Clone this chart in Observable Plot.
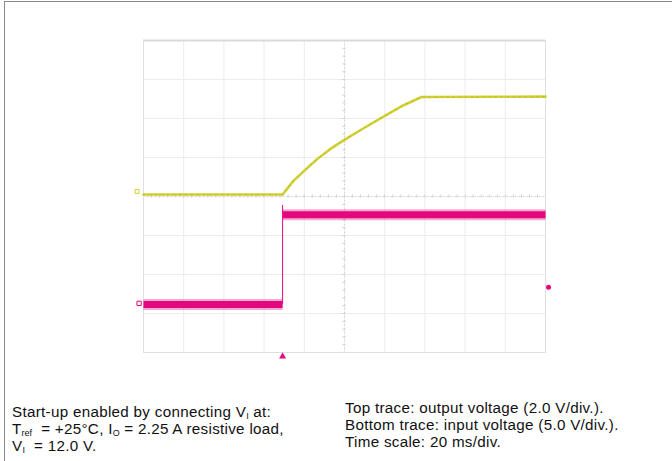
<!DOCTYPE html>
<html>
<head>
<meta charset="utf-8">
<script src="https://cdn.jsdelivr.net/npm/d3@7"></script>
<script src="https://cdn.jsdelivr.net/npm/@observablehq/plot@0.6"></script>
<style>
  body { margin: 0; background: #fff; }
  #wrap { position: relative; width: 672px; height: 461px; overflow: hidden;
          font-family: "Liberation Sans", Arial, Helvetica, sans-serif; color: #111; }
  #border { position: absolute; left: 4px; top: 1px; width: 700px; height: 500px;
            border-top: 1px solid #8a8a8a; border-left: 1px solid #8a8a8a; }
  #chart { position: absolute; left: 0; top: 0; }
  .cap { position: absolute; font-size: 15.2px; letter-spacing: 0.3px; line-height: 17.2px; white-space: nowrap; }
  .sb { font-size: 9px; letter-spacing: 0; line-height: 0; position: relative; top: 1.5px; }
</style>
</head>
<body>
<div id="wrap">
  <div id="border"></div>
  <div id="chart"></div>
  <div class="cap" style="left:12px; top:403px;">
    Start-up enabled by connecting V<span class="sb">I</span> at:<br>
    T<span class="sb">ref</span>&nbsp; = +25°C, I<span class="sb">O</span> = 2.25 A resistive load,<br>
    V<span class="sb">I</span>&nbsp; = 12.0 V.
  </div>
  <div class="cap" style="left:345px; top:399px;">
    Top trace: output voltage (2.0 V/div.).<br>
    Bottom trace: input voltage (5.0 V/div.).<br>
    Time scale: 20 ms/div.
  </div>
</div>
<script>
// Screen grid: time (ms) across 10 divisions, vertical position in divisions
const gridTimes = [0, 20, 40, 60, 80, 100, 120, 140, 160, 180, 200];
const gridDivs = [-4, -3, -2, -1, 0, 1, 2, 3, 4];
const minorTimes = d3.range(0, 200.1, 4);
const minorDivs = d3.range(-4, 4.01, 0.2);

// Top trace: output voltage (screen divisions)
const outTime = [0, 69.2, 74.6, 80.6, 86.6, 93.0, 99.5, 109.5, 119.4, 129.4, 138.3, 200];
const outDiv  = [0.05, 0.05, 0.40, 0.69, 0.97, 1.22, 1.44, 1.75, 2.05, 2.34, 2.55, 2.56];

// Bottom trace: input voltage (screen divisions)
const inTime = [0, 69.2, 69.2, 200];
const inDiv  = [-2.77, -2.77, -0.47, -0.47];
const inStepTop = -0.23;

// Scope markers
const ch1Marker = {t: -3.2, d: 0.13};
const ch2Marker = {t: -2.2, d: -2.74};
const trigPos = {t: 69.2, d: -4.1};
const trigLevel = {t: 201.5, d: -2.33};

const yellow = "#d0d033";
const magenta = "#e4087f";

const outData = outTime.map((t, i) => ({t, d: outDiv[i]}));
const lowSeg = [{t: inTime[0], d: inDiv[0]}, {t: inTime[1], d: inDiv[1]}];
const highSeg = [{t: inTime[2], d: inDiv[2]}, {t: inTime[3], d: inDiv[3]}];

const chart = Plot.plot({
  width: 672,
  height: 380,
  marginLeft: 143,
  marginRight: 127,
  marginTop: 40,
  marginBottom: 28,
  x: {domain: [0, 200], axis: null},
  y: {domain: [-4, 4], axis: null},
  style: {background: "transparent", overflow: "visible"},
  marks: [
    Plot.ruleX(gridTimes, {stroke: "#ececec", strokeWidth: 1}),
    Plot.ruleY(gridDivs, {stroke: "#ececec", strokeWidth: 1}),
    Plot.ruleX([100], {stroke: "#cfcfcf", strokeDasharray: "1,3"}),
    Plot.ruleY([0], {stroke: "#cfcfcf", strokeDasharray: "1,3"}),
    Plot.ruleY(minorDivs, {x1: 99.2, x2: 100.8, stroke: "#d0d0d0"}),
    Plot.ruleX(minorTimes, {y1: -0.04, y2: 0.04, stroke: "#d0d0d0"}),
    Plot.frame({stroke: "#e0e0e0"}),
    Plot.ruleY([4], {stroke: "#d9d9d9", strokeWidth: 2}),
    // bottom trace
    Plot.line(lowSeg, {x: "t", y: "d", stroke: magenta, strokeWidth: 11, strokeOpacity: 0.35, strokeLinecap: "butt"}),
    Plot.line(lowSeg, {x: "t", y: "d", stroke: magenta, strokeWidth: 7, strokeLinecap: "butt"}),
    Plot.line(highSeg, {x: "t", y: "d", stroke: magenta, strokeWidth: 11, strokeOpacity: 0.35, strokeLinecap: "butt"}),
    Plot.line(highSeg, {x: "t", y: "d", stroke: magenta, strokeWidth: 7, strokeLinecap: "butt"}),
    Plot.ruleX([inTime[1]], {y1: inDiv[1], y2: inStepTop, stroke: magenta, strokeWidth: 1}),
    // top trace
    Plot.line(outData, {x: "t", y: "d", stroke: yellow, strokeWidth: 2.6}),
    Plot.line(outData, {x: "t", y: "d", stroke: "#a8a820", strokeWidth: 1, strokeDasharray: "1,5", strokeOpacity: 0.6}),
    // markers
    Plot.dot([ch1Marker], {x: "t", y: "d", symbol: "square", r: 2.2, stroke: yellow, fill: "none", strokeWidth: 1}),
    Plot.dot([ch2Marker], {x: "t", y: "d", symbol: "square", r: 2.4, stroke: magenta, fill: "none", strokeWidth: 1}),
    Plot.dot([trigPos], {x: "t", y: "d", symbol: "triangle", r: 2.6, fill: magenta, stroke: "none"}),
    Plot.dot([trigLevel], {x: "t", y: "d", r: 2.5, fill: magenta, stroke: "none"})
  ]
});
document.getElementById("chart").appendChild(chart);
</script>
</body>
</html>
